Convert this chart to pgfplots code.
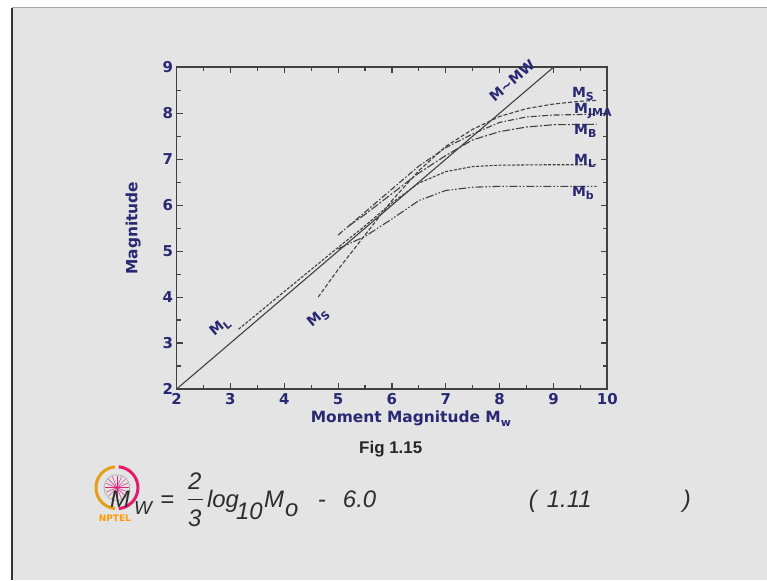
\documentclass[border=0pt]{standalone}
\usepackage{fontspec}
\setmainfont{DejaVu Sans}
\newfontfamily\arial{Liberation Sans}
\usepackage{pgfplots}
\pgfplotsset{compat=1.18}
\definecolor{slidebg}{RGB}{228,228,228}
\definecolor{navy}{RGB}{40,40,115}
\definecolor{curve}{RGB}{65,65,65}
\definecolor{eqgray}{RGB}{45,45,45}
\newcommand\sub[1]{\raisebox{-0.45ex}{\fontsize{11}{11}\selectfont #1}}
\newcommand\lab{\fontsize{14}{14}\selectfont\bfseries\color{navy}}

\begin{document}
\begin{tikzpicture}
% slide background
\fill[white] (0,0) rectangle (767bp,580bp);
\fill[slidebg] (12bp,0) rectangle (767bp,572bp);
\draw[black!80, line width=1.5bp] (12bp,0) -- (12bp,572bp);
\draw[gray!70, line width=1bp] (12bp,572bp) -- (767bp,572bp);

\begin{axis}[
  at={(176.7bp,190.7bp)}, anchor=south west,
  scale only axis, width=431bp, height=322bp,
  xmin=2, xmax=10, ymin=2, ymax=9,
  xtick={2,...,10}, ytick={2,...,9},
  minor x tick num=1, minor y tick num=1,
  tick align=inside,
  major tick length=6bp, minor tick length=4bp,
  axis line style={curve, line width=1.7bp},
  tick style={curve, line width=1.2bp},
  /pgf/number format/assume math mode=true,
  tick label style={font=\fontsize{15}{15}\selectfont\bfseries, text=navy},
  xticklabel style={yshift=-1bp},
  xlabel={Moment Magnitude M\sub{w}},
  ylabel={Magnitude},
  label style={font=\fontsize{15.5}{15.5}\selectfont\bfseries, text=navy},
  xlabel style={at={(axis description cs:0.544,-0.1045)}, anchor=base},
  ylabel style={at={(axis description cs:-0.101,0.5)}, anchor=center},
  clip=false,
  every axis plot/.append style={curve, line width=1.1bp, no markers},
]
% M = Mw
\addplot[solid] coordinates {(2,2) (9,9)};
% Ms
\addplot[dash pattern=on 4bp off 2bp] coordinates {
  (4.63,4.0) (5.0,4.6) (5.5,5.35) (6.0,6.1) (6.5,6.75) (7.0,7.28)
  (7.5,7.65) (8.0,7.93) (8.5,8.1) (9.0,8.2) (9.5,8.26) (9.8,8.28)};
% MJMA
\addplot[dash pattern=on 6bp off 2bp on 1.5bp off 2bp] coordinates {
  (5.0,5.35) (5.5,5.85) (6.0,6.35) (6.5,6.85) (7.0,7.25) (7.5,7.55)
  (8.0,7.8) (8.5,7.92) (9.0,7.96) (9.8,7.98)};
% MB
\addplot[dash pattern=on 8bp off 2bp on 2bp off 2bp] coordinates {
  (5.2,5.55) (5.5,5.8) (6.0,6.25) (6.5,6.7) (7.0,7.08) (7.5,7.42)
  (8.0,7.6) (8.5,7.7) (9.0,7.75) (9.8,7.76)};
% ML
\addplot[dash pattern=on 3bp off 1.5bp] coordinates {
  (3.15,3.3) (4.0,4.12) (5.0,5.08) (5.5,5.55) (6.0,6.05) (6.5,6.48)
  (7.0,6.73) (7.5,6.84) (8.0,6.87) (9.0,6.88) (9.8,6.88)};
% mb
\addplot[dash pattern=on 8bp off 2bp on 1.5bp off 2bp on 1.5bp off 2bp] coordinates {
  (5.0,5.05) (5.5,5.32) (6.0,5.7) (6.5,6.1) (7.0,6.32) (7.5,6.39)
  (8.0,6.41) (9.0,6.41) (9.8,6.41)};

\node[anchor=base west, font=\lab] at (axis cs:9.28,8.35) {M\sub{S}};
\node[anchor=base west, font=\lab] at (axis cs:9.32,8.0) {M\sub{JMA}};
\node[anchor=base west, font=\lab] at (axis cs:9.32,7.54) {M\sub{B}};
\node[anchor=base west, font=\lab] at (axis cs:9.32,6.89) {M\sub{L}};
\node[anchor=base west, font=\lab] at (axis cs:9.28,6.19) {M\sub{b}};
\node[rotate=40.6, font=\lab, inner sep=1pt] at (axis cs:8.23,8.71) {M\textasciitilde MW};
\node[rotate=40, font=\lab] at (axis cs:2.81,3.34) {M\sub{L}};
\node[rotate=40, font=\lab] at (axis cs:4.63,3.55) {M\sub{S}};
\end{axis}

% caption
\node[font=\arial\bfseries\fontsize{17}{17}\selectfont, text=black!85] at (391bp,131bp) {Fig 1.15};

% NPTEL logo
\draw[orange!70!yellow!80!gray, line width=3bp] (117bp,92bp) ++(95:21bp) arc (95:265:21bp);
\draw[red!60!magenta!80!gray, line width=3bp] (117bp,92bp) ++(85:21bp) arc (85:-85:21bp);
\foreach \a in {0,22.5,...,157.5}
  \draw[red!50!magenta!70!gray, line width=0.5bp] (117bp,92bp) ++(\a:12bp) -- ++(\a+180:24bp);
\draw[gray!70, line width=0.6bp] (117bp,92bp) circle (13bp);
\node[font=\bfseries\fontsize{9}{9}\selectfont, text=orange!80!yellow] at (115bp,61bp) {NPTEL};

% equation
\begin{scope}[every node/.style={inner sep=0pt, text=eqgray, font=\arial\itshape\fontsize{24}{24}\selectfont}]
\node[anchor=base west] at (110bp,72bp) {M};
\node[anchor=base west, font=\arial\itshape\fontsize{19}{19}\selectfont] at (134bp,65bp) {W};
\node[anchor=base west] at (160bp,72bp) {=};
\node[anchor=base] at (195bp,90bp) {2};
\node[anchor=base] at (195bp,53bp) {3};
\draw[eqgray, line width=1.4bp] (188bp,80bp) -- (203bp,80bp);
\node[anchor=base west] at (207bp,72bp) {log};
\node[anchor=base west] at (236bp,60bp) {10};
\node[anchor=base west] at (264bp,72bp) {M};
\node[anchor=base west] at (285bp,63bp) {o};
\node[anchor=base west] at (318bp,72bp) {-};
\node[anchor=base west] at (343bp,72bp) {6.0};
\node[anchor=base west] at (529bp,72bp) {(};
\node[anchor=base west] at (547bp,72bp) {1.11};
\node[anchor=base west] at (683bp,72bp) {)};
\end{scope}
\end{tikzpicture}
\end{document}
